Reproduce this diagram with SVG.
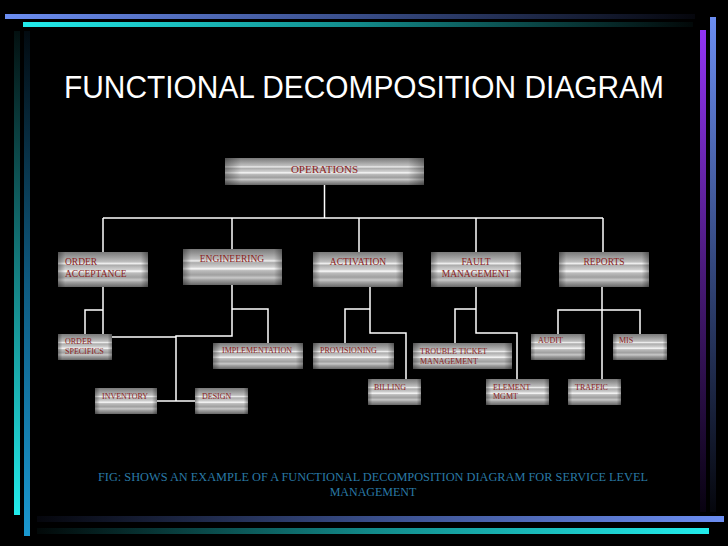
<svg xmlns="http://www.w3.org/2000/svg" width="728" height="546" viewBox="0 0 728 546">
<defs>
<linearGradient id="metal" x1="0" y1="0" x2="0" y2="1">
<stop offset="0" stop-color="#7a7a7a"/>
<stop offset="0.12" stop-color="#969696"/>
<stop offset="0.28" stop-color="#bebebe"/>
<stop offset="0.33" stop-color="#eeeeee"/>
<stop offset="0.38" stop-color="#acacac"/>
<stop offset="0.5" stop-color="#d0d0d0"/>
<stop offset="0.55" stop-color="#fafafa"/>
<stop offset="0.6" stop-color="#bcbcbc"/>
<stop offset="0.72" stop-color="#a0a0a0"/>
<stop offset="0.8" stop-color="#c8c8c8"/>
<stop offset="0.86" stop-color="#a2a2a2"/>
<stop offset="1" stop-color="#686868"/>
</linearGradient>
<linearGradient id="edge" x1="0" y1="0" x2="1" y2="0">
<stop offset="0" stop-color="#000" stop-opacity="0.35"/>
<stop offset="0.08" stop-color="#000" stop-opacity="0"/>
<stop offset="0.92" stop-color="#000" stop-opacity="0"/>
<stop offset="1" stop-color="#000" stop-opacity="0.35"/>
</linearGradient>
<linearGradient id="gTopBlue" x1="0" y1="0" x2="1" y2="0">
<stop offset="0" stop-color="#6c8ef2"/>
<stop offset="0.5" stop-color="#3a4f8c"/>
<stop offset="1" stop-color="#05060c"/>
</linearGradient>
<linearGradient id="gTopCyan" x1="0" y1="0" x2="1" y2="0">
<stop offset="0" stop-color="#22ecec"/>
<stop offset="0.5" stop-color="#128a8a"/>
<stop offset="1" stop-color="#020808"/>
</linearGradient>
<linearGradient id="gLeftCyan" x1="0" y1="0" x2="0" y2="1">
<stop offset="0" stop-color="#031010"/>
<stop offset="0.5" stop-color="#147e80"/>
<stop offset="1" stop-color="#22eaea"/>
</linearGradient>
<linearGradient id="gLeftBlue" x1="0" y1="0" x2="0" y2="1">
<stop offset="0" stop-color="#020a10"/>
<stop offset="0.5" stop-color="#0e5a80"/>
<stop offset="1" stop-color="#1a98d0"/>
</linearGradient>
<linearGradient id="gRightPurple" x1="0" y1="0" x2="0" y2="1">
<stop offset="0" stop-color="#9234f4"/>
<stop offset="0.5" stop-color="#4a1a7a"/>
<stop offset="1" stop-color="#080210"/>
</linearGradient>
<linearGradient id="gRightBlue" x1="0" y1="0" x2="0" y2="1">
<stop offset="0" stop-color="#6c8ef2"/>
<stop offset="0.5" stop-color="#34487e"/>
<stop offset="1" stop-color="#05060c"/>
</linearGradient>
<linearGradient id="gBotBlue" x1="0" y1="0" x2="1" y2="0">
<stop offset="0" stop-color="#05060c"/>
<stop offset="0.5" stop-color="#3a4f8c"/>
<stop offset="1" stop-color="#6c8ef2"/>
</linearGradient>
<linearGradient id="gBotCyan" x1="0" y1="0" x2="1" y2="0">
<stop offset="0" stop-color="#020808"/>
<stop offset="0.5" stop-color="#128a8a"/>
<stop offset="1" stop-color="#22ecec"/>
</linearGradient>
</defs>
<style>
.box { fill: url(#metal); }
.shade { fill: url(#edge); }
.lbl { font-family: "Liberation Serif", "Times New Roman", serif; fill: #8c1e1e; }
.l0 { font-size: 11px; }
.l1 { font-size: 9.5px; }
.l2 { font-size: 8px; }
.conn line, .conn polyline { stroke: #ffffff; stroke-width: 1.5; fill: none; }
</style>
<rect x="0" y="0" width="728" height="546" fill="#000000"/>
<g id="frame">
<rect x="5" y="14" width="690" height="5" fill="url(#gTopBlue)"/>
<rect x="23" y="22" width="670" height="5" fill="url(#gTopCyan)"/>
<rect x="14" y="31" width="6" height="484" fill="url(#gLeftCyan)"/>
<rect x="24" y="31" width="6" height="505" fill="url(#gLeftBlue)"/>
<rect x="700" y="30" width="6" height="482" fill="url(#gRightPurple)"/>
<rect x="710" y="17" width="6" height="495" fill="url(#gRightBlue)"/>
<rect x="37" y="516" width="687" height="6" fill="url(#gBotBlue)"/>
<rect x="37" y="528" width="672" height="6" fill="url(#gBotCyan)"/>
</g>
<text x="64" y="98" font-family="Liberation Sans, Arial, sans-serif" font-size="31" fill="#ffffff" textLength="600" lengthAdjust="spacingAndGlyphs">FUNCTIONAL DECOMPOSITION DIAGRAM</text>
<g class="conn" id="connectors">
<line x1="324.5" y1="185" x2="324.5" y2="218"/>
<line x1="103" y1="218" x2="603" y2="218"/>
<line x1="103" y1="218" x2="103" y2="252"/>
<line x1="232" y1="218" x2="232" y2="249"/>
<line x1="359" y1="218" x2="359" y2="252"/>
<line x1="476" y1="218" x2="476" y2="252"/>
<line x1="603" y1="218" x2="603" y2="252"/>
<polyline points="103,287 103,337 176,337"/>
<polyline points="85,334 85,310 103,310"/>
<polyline points="232,285 232,336 176,336 176,401"/>
<line x1="157" y1="401" x2="195" y2="401"/>
<polyline points="232,309 268,309 268,343"/>
<polyline points="370,287 370,333 406,333 406,379"/>
<polyline points="370,309 345,309 345,343"/>
<polyline points="476,287 476,333 517,333 517,379"/>
<polyline points="476,309 455,309 455,343"/>
<line x1="602" y1="287" x2="602" y2="379"/>
<polyline points="558,334 558,310 640,310 640,334"/>
</g>
<g id="operations"><rect class="box" x="225" y="158" width="199" height="27"/><rect class="shade" x="225" y="158" width="199" height="27"/><text class="lbl l0" x="324.5" y="173" text-anchor="middle">OPERATIONS</text></g>
<g id="order-acceptance"><rect class="box" x="58" y="252" width="90" height="35"/><rect class="shade" x="58" y="252" width="90" height="35"/><text class="lbl l1" x="65" y="265">ORDER</text><text class="lbl l1" x="65" y="277">ACCEPTANCE</text></g>
<g id="engineering"><rect class="box" x="183" y="249" width="99" height="36"/><rect class="shade" x="183" y="249" width="99" height="36"/><text class="lbl l1" x="232" y="262" text-anchor="middle">ENGINEERING</text></g>
<g id="activation"><rect class="box" x="313" y="252" width="90" height="35"/><rect class="shade" x="313" y="252" width="90" height="35"/><text class="lbl l1" x="358" y="265" text-anchor="middle">ACTIVATION</text></g>
<g id="fault-management"><rect class="box" x="431" y="252" width="90" height="35"/><rect class="shade" x="431" y="252" width="90" height="35"/><text class="lbl l1" x="476" y="265" text-anchor="middle">FAULT</text><text class="lbl l1" x="476" y="277" text-anchor="middle">MANAGEMENT</text></g>
<g id="reports"><rect class="box" x="559" y="252" width="90" height="35"/><rect class="shade" x="559" y="252" width="90" height="35"/><text class="lbl l1" x="604" y="265" text-anchor="middle">REPORTS</text></g>
<g id="order-specifics"><rect class="box" x="58" y="334" width="54" height="26"/><rect class="shade" x="58" y="334" width="54" height="26"/><text class="lbl l2" x="65" y="344">ORDER</text><text class="lbl l2" x="65" y="354">SPECIFICS</text></g>
<g id="implementation"><rect class="box" x="213" y="343" width="90" height="26"/><rect class="shade" x="213" y="343" width="90" height="26"/><text class="lbl l2" x="257" y="353" text-anchor="middle">IMPLEMENTATION</text></g>
<g id="inventory"><rect class="box" x="95" y="388" width="62" height="26"/><rect class="shade" x="95" y="388" width="62" height="26"/><text class="lbl l2" x="102" y="399">INVENTORY</text></g>
<g id="design"><rect class="box" x="195" y="388" width="53" height="26"/><rect class="shade" x="195" y="388" width="53" height="26"/><text class="lbl l2" x="202" y="399">DESIGN</text></g>
<g id="provisioning"><rect class="box" x="313" y="343" width="81" height="26"/><rect class="shade" x="313" y="343" width="81" height="26"/><text class="lbl l2" x="320" y="353">PROVISIONING</text></g>
<g id="billing"><rect class="box" x="368" y="379" width="53" height="26"/><rect class="shade" x="368" y="379" width="53" height="26"/><text class="lbl l2" x="374" y="390">BILLING</text></g>
<g id="trouble-ticket"><rect class="box" x="413" y="343" width="99" height="26"/><rect class="shade" x="413" y="343" width="99" height="26"/><text class="lbl l2" x="420" y="354">TROUBLE TICKET</text><text class="lbl l2" x="420" y="364">MANAGEMENT</text></g>
<g id="element-mgmt"><rect class="box" x="486" y="379" width="63" height="26"/><rect class="shade" x="486" y="379" width="63" height="26"/><text class="lbl l2" x="493" y="390">ELEMENT</text><text class="lbl l2" x="493" y="399">MGMT</text></g>
<g id="audit"><rect class="box" x="531" y="334" width="54" height="26"/><rect class="shade" x="531" y="334" width="54" height="26"/><text class="lbl l2" x="538" y="343">AUDIT</text></g>
<g id="mis"><rect class="box" x="613" y="334" width="54" height="26"/><rect class="shade" x="613" y="334" width="54" height="26"/><text class="lbl l2" x="619" y="343">MIS</text></g>
<g id="traffic"><rect class="box" x="568" y="379" width="53" height="26"/><rect class="shade" x="568" y="379" width="53" height="26"/><text class="lbl l2" x="575" y="390">TRAFFIC</text></g>
<g id="caption" font-family="Liberation Serif, Times New Roman, serif" font-size="12" fill="#2a7aa6" text-anchor="middle" xml:space="preserve">
<text x="373" y="481" textLength="550" lengthAdjust="spacingAndGlyphs">FIG:  SHOWS AN EXAMPLE OF  A FUNCTIONAL DECOMPOSITION DIAGRAM FOR SERVICE LEVEL</text>
<text x="373" y="496">MANAGEMENT</text>
</g>
</svg>
